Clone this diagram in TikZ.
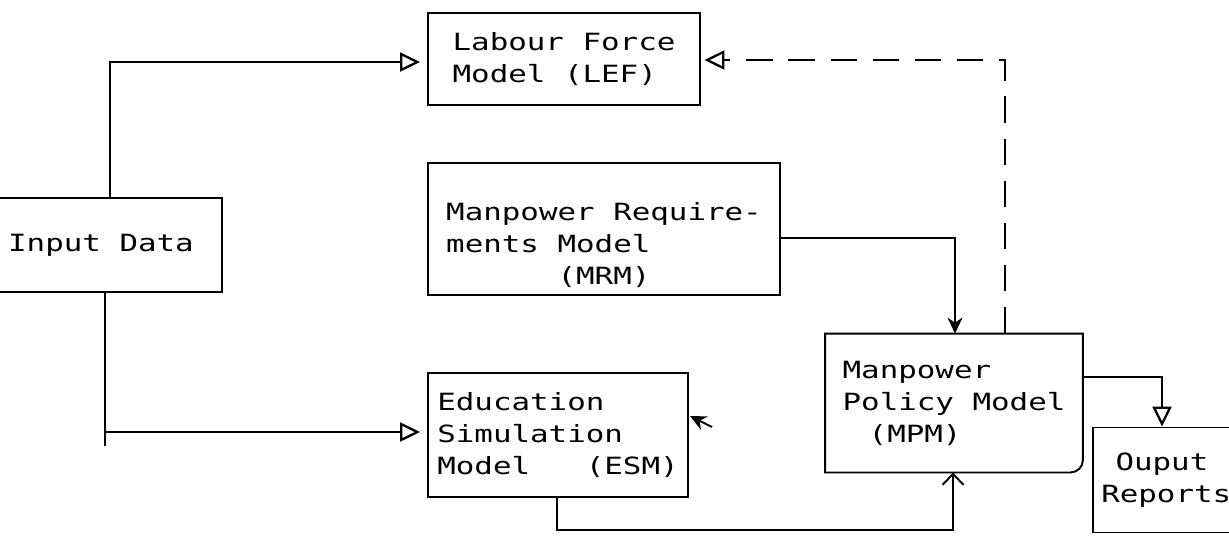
\documentclass[tikz,border=0pt]{standalone}
\usepackage{fontspec}
\newfontfamily\dotfont[FakeStretch=1.3]{DejaVu Sans Mono}
\usetikzlibrary{arrows.meta}

\begin{document}
\begin{tikzpicture}[x=0.02cm,y=-0.02cm,
  font=\dotfont\fontsize{13.5}{18.2}\selectfont,
  line width=1.1pt,
  modelbox/.style={draw,align=left,inner sep=0pt},
  openhead/.style={-{Triangle[open,length=0.4cm,width=0.38cm,line width=1.3pt]}},
  solidhead/.style={-{Stealth[length=0.32cm,width=0.3cm]}},
  barbhead/.style={-{Straight Barb[length=0.22cm,width=0.42cm]}},
  feedback/.style={dash pattern=on 15pt off 9pt}]

  \useasboundingbox (0,0) rectangle (1229,539);

  % --- Boxes: placed in absolute (pixel-like) coordinates ---
  \node[modelbox,minimum width=4.84cm,minimum height=1.88cm] (input) at (101,245) {Input Data};
  \node[modelbox,minimum width=5.44cm,minimum height=1.84cm] (lef) at (564,59)
    {Labour Force\\Model (LEF)};
  \node[modelbox,minimum width=7.04cm,minimum height=2.64cm] (mrm) at (604,229)
    {\rule{0pt}{1cm}Manpower Require-\\ments Model\\\phantom{ments }(MRM)};
  \node[modelbox,minimum width=5.2cm,minimum height=2.48cm] (esm) at (558,435)
    {Education\\Simulation\\Model\ \ \ (ESM)};
  % output box runs off the right edge of the page
  \node[modelbox,text width=2.75cm,minimum width=3.1cm,minimum height=2.1cm] (out) at (1170,480)
    {\hspace*{0.6em}Ouput\\Reports};

  % policy model box, rounded only at its lower right corner
  \node[align=left,inner sep=0pt,minimum width=5.12cm,minimum height=2.74cm] (mpm) at (954,403)
    {Manpower\\Policy Model\\\hspace*{1.1em}(MPM)};
  \draw (mpm.south west) -- (mpm.north west) -- (mpm.north east)
    -- ([yshift=0.25cm]mpm.south east) to[out=-90,in=0] ([xshift=-0.25cm]mpm.south east) -- cycle;

  % --- Input data feeds LEF and ESM ---
  \coordinate (itop) at (110,62);
  \draw[openhead,shorten >=4pt] (input.north -| itop) -- (itop) -- (itop -| lef.west);
  \coordinate (ibot) at (105,432);
  \coordinate (ibotend) at (105,446);
  \draw (input.south -| ibot) -- (ibotend);
  \draw[openhead,shorten >=4pt] (ibot) -- (ibot -| esm.west);

  % --- MRM to MPM ---
  \coordinate (mturn) at (955,238);
  \draw[solidhead] (mturn -| mrm.east) -- (mturn) -- (mturn |- mpm.north);

  % --- Feedback from MPM back to LEF (dashed) ---
  \coordinate (fturn) at (1005,60);
  \draw[feedback,openhead,shorten >=2pt] (fturn |- mpm.north) -- (fturn) -- (fturn -| lef.east);

  % --- MPM to output reports ---
  \coordinate (oturn) at (1162,377);
  \draw[openhead] (oturn -| mpm.east) -- (oturn) -- (oturn |- out.north);

  % --- ESM to MPM ---
  \coordinate (eturn) at (557,530);
  \coordinate (pturn) at (953,530);
  \draw[barbhead] (eturn |- esm.south) -- (eturn) -- (pturn) -- (pturn |- mpm.south);

  % --- short stub pointing into ESM ---
  \coordinate (estub) at (712,427);
  \coordinate (etip) at (690,416);
  \draw[solidhead] (estub) -- (etip);

\end{tikzpicture}
\end{document}
